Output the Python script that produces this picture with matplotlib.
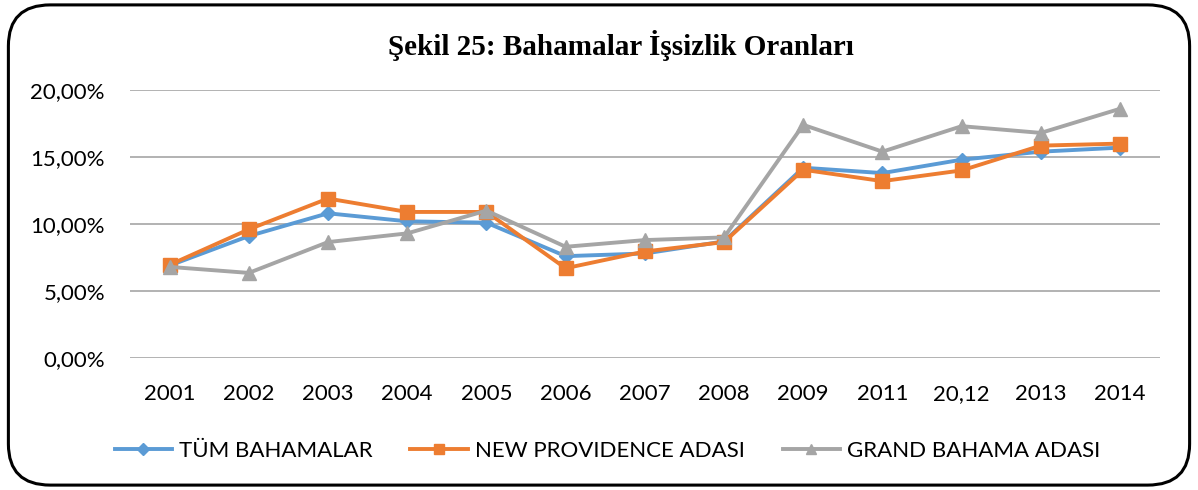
import matplotlib.pyplot as plt
from matplotlib.patches import FancyBboxPatch
from matplotlib.ticker import FuncFormatter

# Veriler (%)
years = ['2001', '2002', '2003', '2004', '2005', '2006', '2007',
         '2008', '2009', '2011', '20,12', '2013', '2014']
tum_bahamalar = [6.9, 9.1, 10.8, 10.2, 10.1, 7.6, 7.8, 8.7, 14.2, 13.8, 14.8, 15.4, 15.7]
new_providence = [6.95, 9.6, 11.9, 10.9, 10.9, 6.7, 7.95, 8.65, 14.05, 13.2, 14.0, 15.85, 16.0]
grand_bahama = [6.8, 6.35, 8.65, 9.3, 11.0, 8.3, 8.8, 9.0, 17.4, 15.4, 17.3, 16.8, 18.6]

plt.rcParams['font.family'] = ['Lato', 'DejaVu Sans']

fig = plt.figure(figsize=(11.98, 4.9), dpi=100)
ax = fig.add_axes([0.1085, 0.2694, 0.8595, 0.5469])

x = range(len(years))
ax.plot(x, tum_bahamalar, color='#5B9BD5', lw=2.8, marker='D', ms=7.5, label='TÜM BAHAMALAR')
ax.plot(x, new_providence, color='#ED7D31', lw=2.8, marker='s', ms=10, label='NEW PROVIDENCE ADASI')
ax.plot(x, grand_bahama, color='#A5A5A5', lw=2.8, marker='^', ms=10, label='GRAND BAHAMA ADASI')

ax.set_ylim(0, 20)
ax.set_yticks([0, 5, 10, 15, 20])
ax.yaxis.set_major_formatter(FuncFormatter(lambda v, p: f'{v:.2f}'.replace('.', ',') + '%'))
ax.set_xlim(-0.5, len(years) - 0.5)
ax.set_xticks(list(x))
ax.set_xticklabels(years, va='baseline')
ax.grid(axis='y', color='#A6A6A6', lw=1.2)
ax.set_axisbelow(True)
for s in ax.spines.values():
    s.set_visible(False)
ax.tick_params(length=0, labelsize=16)
ax.tick_params(axis='x', pad=30)
ax.tick_params(axis='y', pad=18)

fig.text(0.518, 0.908, 'Şekil 25: Bahamalar İşsizlik Oranları', ha='center', va='center',
         family='Liberation Serif', weight='bold', fontsize=21)

fig.legend(loc='center', bbox_to_anchor=(0.507, 0.08), ncol=3, frameon=False,
           fontsize=16, handlelength=2.6, columnspacing=1.7, handletextpad=0.3,
           markerscale=0.75)

border = FancyBboxPatch((0.007, 0.01), 0.986, 0.98, boxstyle='round,pad=0,rounding_size=0.035',
                        transform=fig.transFigure, fill=False, ec='black', lw=2.2, mutation_aspect=2.4)
fig.patches.append(border)

fig.savefig('out.png', dpi=100)
